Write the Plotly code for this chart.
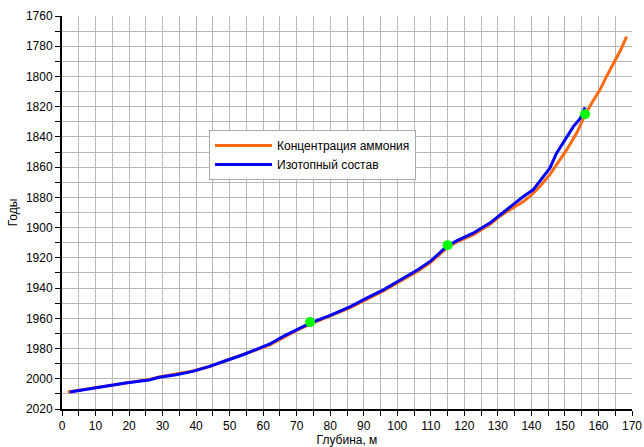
import plotly.graph_objects as go

# Ammonium concentration dating: depth (m) vs year
orange_depth = [1.7, 5, 9, 14, 19, 23, 26, 29, 34, 39, 44, 49, 54, 58, 62, 66, 70, 74, 80,
                86, 91, 96, 101, 106, 110, 115, 118, 122.6, 127.6, 130, 132.6, 135, 137.6,
                140, 142.5, 145.5, 147.5, 150.5, 153.5, 156, 158, 160.4, 162.4, 164.5,
                166.5, 168.4]
orange_year = [2008.8, 2007.7, 2006.2, 2004.5, 2002.9, 2001.6, 2000.4, 1998.8, 1997.0,
               1994.8, 1991.9, 1988.1, 1984.3, 1980.8, 1977.5, 1972.5, 1968.0, 1963.8,
               1958.5, 1953.0, 1947.3, 1941.8, 1935.3, 1929.0, 1923.0, 1913.0, 1909.2,
               1904.8, 1898.0, 1893.5, 1889.5, 1886.3, 1882.7, 1878.5, 1872.8, 1865.0,
               1858.5, 1848.6, 1837.5, 1825.4, 1817.5, 1809.0, 1800.0, 1791.0, 1783.0,
               1773.7]

# Isotope composition dating: depth (m) vs year
blue_depth = [2.3, 5, 9, 14, 19, 23, 26, 29, 34, 39, 44, 49, 54, 58, 62, 66, 70, 74, 80,
              86, 91, 96, 101, 106, 110, 115, 118, 122.6, 127.6, 130, 132.6, 135, 137.6,
              140.5, 142.5, 145.5, 147.5, 150, 152.5, 154.5, 156]
blue_year = [2008.7, 2007.7, 2006.1, 2004.5, 2002.8, 2001.7, 2000.8, 1999.0, 1997.4,
             1995.1, 1991.8, 1987.9, 1984.1, 1980.5, 1977.0, 1972.0, 1967.5, 1963.2,
             1958.0, 1952.2, 1946.5, 1941.0, 1934.5, 1928.0, 1922.0, 1912.0, 1908.5,
             1903.7, 1897.0, 1892.5, 1888.2, 1884.0, 1879.4, 1875.0, 1869.5, 1860.7,
             1850.8, 1842.0, 1833.2, 1828.0, 1820.4]

# Reference horizons
mark_depth = [74, 115, 156]
mark_year = [1962.5, 1911.6, 1825.0]

series_names = ["Концентрация аммония", "Изотопный состав"]

grid_color = "#b8b8b8"
font_family = "Liberation Sans, Arial, sans-serif"

fig = go.Figure()
fig.add_trace(go.Scatter(x=orange_depth, y=orange_year, mode="lines",
                         name=series_names[0],
                         line=dict(color="#ff6a10", width=3)))
fig.add_trace(go.Scatter(x=blue_depth, y=blue_year, mode="lines",
                         name=series_names[1],
                         line=dict(color="#0000ff", width=3)))
fig.add_trace(go.Scatter(x=mark_depth, y=mark_year, mode="markers",
                         showlegend=False,
                         marker=dict(color="#00ff00", size=10)))

fig.update_layout(
    width=644, height=447,
    margin=dict(l=62, r=12, t=16, b=38, autoexpand=False),
    paper_bgcolor="white", plot_bgcolor="white",
    font=dict(family=font_family, size=12, color="black"),
    legend=dict(x=0.258, y=0.71, xanchor="left", yanchor="top",
                bgcolor="white", bordercolor="#aaaaaa", borderwidth=1,
                itemwidth=57, font=dict(size=12), tracegroupgap=0),
)

fig.update_xaxes(
    range=[0, 170], dtick=10, tick0=0, automargin=False,
    title=dict(text="Глубина, м", standoff=2, font=dict(size=12)),
    ticks="outside", ticklen=5, tickwidth=1, tickcolor="black",
    showline=True, linecolor="black", linewidth=2,
    showgrid=True, gridcolor=grid_color, gridwidth=1, zeroline=False,
    minor=dict(dtick=5, ticks="outside", ticklen=5, tickcolor="black",
               showgrid=True, gridcolor=grid_color, gridwidth=1),
)
fig.update_yaxes(
    range=[2020, 1760], dtick=20, tick0=1760, automargin=False,
    title=dict(text="Годы", standoff=6, font=dict(size=12)),
    ticks="outside", ticklen=5, tickwidth=1, tickcolor="black",
    showline=True, linecolor="black", linewidth=2,
    showgrid=True, gridcolor=grid_color, gridwidth=1, zeroline=False,
    minor=dict(dtick=10, ticks="outside", ticklen=5, tickcolor="black",
               showgrid=True, gridcolor=grid_color, gridwidth=1),
)

fig.write_html("out.html")
